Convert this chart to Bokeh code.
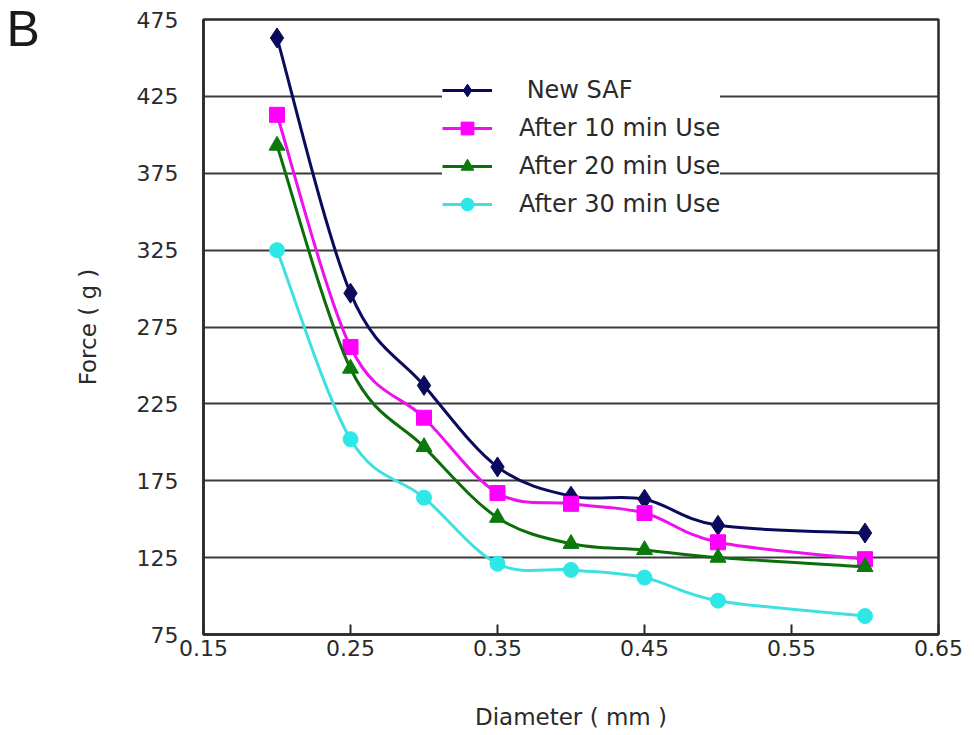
from bokeh.plotting import figure
from bokeh.models import Range1d, FixedTicker, Legend, LegendItem, Label, ColumnDataSource
from bokeh.embed import file_html
from bokeh.resources import INLINE

diameter = [0.20, 0.25, 0.30, 0.35, 0.40, 0.45, 0.50, 0.60]
new_saf = [463, 297, 237, 184, 165, 163, 146, 141]
after_10 = [413, 262, 216, 167, 160, 154, 135, 124]
after_20 = [393, 248, 197, 151, 134, 130, 125, 119]
after_30 = [325, 202, 164, 121, 117, 112, 97, 87]

series_names = ["New SAF", "After 10 min Use", "After 20 min Use", "After 30 min Use"]
x_ticks = [0.15, 0.25, 0.35, 0.45, 0.55, 0.65]
y_ticks = [75, 125, 175, 225, 275, 325, 375, 425, 475]

FONT = "DejaVu Sans"

p = figure(width=974, height=735, output_backend="svg", toolbar_location=None,
           x_range=Range1d(0.15, 0.65), y_range=Range1d(75, 475),
           min_border_left=203, min_border_right=36, min_border_top=19, min_border_bottom=101)

p.outline_line_color = "#2a2a2a"
p.outline_line_width = 2.5
p.background_fill_color = "white"
p.border_fill_color = "white"

p.xgrid.visible = False
p.ygrid.ticker = FixedTicker(ticks=y_ticks)
p.ygrid.grid_line_color = "#3a3a3a"
p.ygrid.grid_line_width = 2

p.xaxis.ticker = FixedTicker(ticks=x_ticks)
p.yaxis.ticker = FixedTicker(ticks=y_ticks)
p.xaxis.major_label_overrides = {t: f"{t:.2f}" for t in x_ticks}

for ax in (p.xaxis[0], p.yaxis[0]):
    ax.axis_line_color = "#2a2a2a"
    ax.axis_line_width = 2.5
    ax.major_tick_line_color = "#2a2a2a"
    ax.major_tick_line_width = 2
    ax.minor_tick_line_color = None
    ax.major_label_text_font = FONT
    ax.major_label_text_font_size = "22px"
    ax.major_label_text_color = "#2a2a2a"
    ax.axis_label_text_font = FONT
    ax.axis_label_text_font_size = "23px"
    ax.axis_label_text_font_style = "normal"
    ax.axis_label_text_color = "#2a2a2a"

p.xaxis.major_tick_in = 10
p.xaxis.major_tick_out = 0
p.xaxis.major_label_standoff = 5
p.xaxis.axis_label = "Diameter ( mm )"
p.xaxis.axis_label_standoff = 45

p.yaxis.major_tick_in = 0
p.yaxis.major_tick_out = 0
p.yaxis.major_label_standoff = 25
p.yaxis.axis_label = "Force ( g )"
p.yaxis.axis_label_standoff = 33


def bezier_source(xs, ys):
    n = len(xs)
    x0, y0, x1, y1, cx0, cy0, cx1, cy1 = [], [], [], [], [], [], [], []
    for i in range(n - 1):
        pm = max(i - 1, 0)
        pn = min(i + 2, n - 1)
        x0.append(xs[i]); y0.append(ys[i])
        x1.append(xs[i + 1]); y1.append(ys[i + 1])
        cx0.append(xs[i] + (xs[i + 1] - xs[pm]) / 6.0)
        cy0.append(ys[i] + (ys[i + 1] - ys[pm]) / 6.0)
        cx1.append(xs[i + 1] - (xs[pn] - xs[i]) / 6.0)
        cy1.append(ys[i + 1] - (ys[pn] - ys[i]) / 6.0)
    return ColumnDataSource(dict(x0=x0, y0=y0, x1=x1, y1=y1, cx0=cx0, cy0=cy0, cx1=cx1, cy1=cy1))


styles = [
    ("#0b0b5e", "#0b0b5e", "diamond", 20),
    ("#ee11ee", "#ff00ff", "square", 15),
    ("#0a6e0a", "#0b7a0b", "triangle", 16),
    ("#3fe0e0", "#2ee8e8", "circle", 15),
]

items = []
for name, ys, (lc, mc, marker, size) in zip(series_names, [new_saf, after_10, after_20, after_30], styles):
    src = bezier_source(diameter, ys)
    b = p.bezier(x0="x0", y0="y0", x1="x1", y1="y1", cx0="cx0", cy0="cy0", cx1="cx1", cy1="cy1",
                 source=src, line_color=lc, line_width=3)
    s = p.scatter(diameter, ys, marker=marker, size=size, fill_color=mc, line_color=mc)
    items.append(LegendItem(label=(" " + name) if name == "New SAF" else name, renderers=[b, s]))

legend = Legend(items=items, location=(239, 414), orientation="vertical")
legend.background_fill_color = "white"
legend.background_fill_alpha = 1.0
legend.border_line_color = None
legend.label_text_font = FONT
legend.label_text_font_size = "24px"
legend.label_text_color = "#2a2a2a"
legend.glyph_width = 50
legend.glyph_height = 32
legend.spacing = 6
legend.label_standoff = 27
legend.padding = 14
legend.margin = 0
p.add_layout(legend, "center")

p.add_layout(Label(x=-32, y=578, x_units="screen", y_units="screen", text="B",
                   text_font="Liberation Sans", text_font_size="50px", text_color="#1a1a1a"), "left")

open("out.html", "w").write(file_html(p, INLINE))
